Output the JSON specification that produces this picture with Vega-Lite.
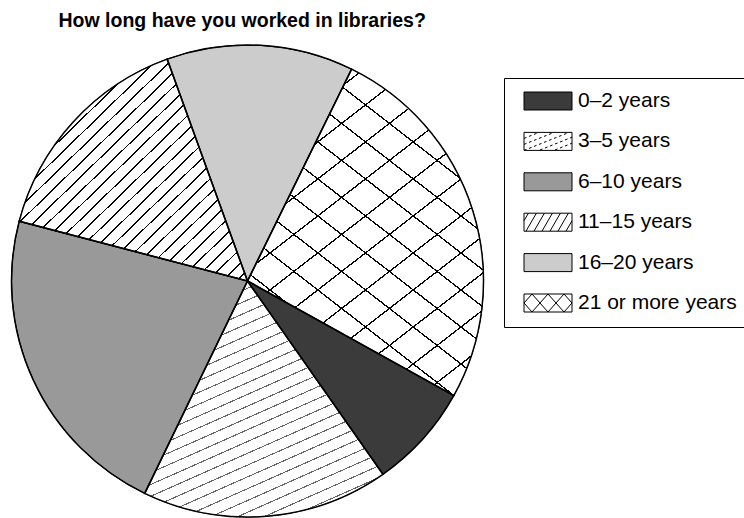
{
  "$schema": "https://vega.github.io/schema/vega-lite/v6.json",
  "width": 495,
  "height": 474,
  "autosize": {"type": "none"},
  "padding": {"left": 0, "top": 44, "right": 249, "bottom": 0},
  "background": "white",
  "title": {
    "text": "How long have you worked in libraries?",
    "anchor": "start",
    "frame": "group",
    "font": "Liberation Sans",
    "fontSize": 19.5,
    "fontWeight": "bold",
    "color": "black",
    "offset": -4,
    "baseline": "alphabetic",
    "dx": 58.5
  },
  "data": {
    "values": [
      {"years": "0–2 years", "pct": 7.2, "ord": 1},
      {"years": "3–5 years", "pct": 16.9, "ord": 2},
      {"years": "6–10 years", "pct": 21.9, "ord": 3},
      {"years": "11–15 years", "pct": 15.4, "ord": 4},
      {"years": "16–20 years", "pct": 12.8, "ord": 5},
      {"years": "21 or more years", "pct": 25.8, "ord": 6}
    ]
  },
  "layer": [
    {
      "encoding": {
        "theta": {"field": "pct", "type": "quantitative", "stack": true, "scale": {"range": [2.078, 8.361]}},
        "order": {"field": "ord", "type": "quantitative"}
      },
      "layer": [
        {
          "mark": {"type": "arc", "radius": 236, "stroke": "black", "strokeWidth": 1},
          "encoding": {
            "fill": {
              "field": "years",
              "type": "nominal",
              "scale": {
                "domain": ["0–2 years", "3–5 years", "6–10 years", "11–15 years", "16–20 years", "21 or more years"],
                "range": ["#3b3b3b", "#ffffff", "#999999", "#ffffff", "#cccccc", "#ffffff"]
              },
              "legend": {
                "title": null,
                "orient": "none",
                "legendX": 504,
                "legendY": 34,
                "strokeColor": "black",
                "fillColor": "white",
                "padding": 12.5,
                "symbolType": "M-0.333,-1H5V1H-0.333Z",
                "symbolSize": 324,
                "symbolStrokeColor": "black",
                "symbolStrokeWidth": 1,
                "symbolOffset": 0,
                "symbolOpacity": 1,
                "labelOffset": 40.5,
                "labelFont": "Liberation Sans",
                "labelFontSize": 21,
                "labelColor": "black",
                "labelLimit": 400,
                "rowPadding": 17.4
              }
            }
          }
        },
        {
          "mark": {"type": "arc", "radius": 236, "strokeWidth": 0,
            "fill": {"gradient": "linear", "x1": 0, "y1": 0, "x2": 0.54, "y2": 1.206, "stops": [
              {"offset": 0.015, "color": "#fff"}, {"offset": 0.015, "color": "#666"}, {"offset": 0.0185, "color": "#666"}, {"offset": 0.0185, "color": "#fff"},
              {"offset": 0.0495, "color": "#fff"}, {"offset": 0.0495, "color": "#666"}, {"offset": 0.053, "color": "#666"}, {"offset": 0.053, "color": "#fff"},
              {"offset": 0.084, "color": "#fff"}, {"offset": 0.084, "color": "#666"}, {"offset": 0.0875, "color": "#666"}, {"offset": 0.0875, "color": "#fff"},
              {"offset": 0.1185, "color": "#fff"}, {"offset": 0.1185, "color": "#666"}, {"offset": 0.122, "color": "#666"}, {"offset": 0.122, "color": "#fff"},
              {"offset": 0.153, "color": "#fff"}, {"offset": 0.153, "color": "#666"}, {"offset": 0.1565, "color": "#666"}, {"offset": 0.1565, "color": "#fff"},
              {"offset": 0.1875, "color": "#fff"}, {"offset": 0.1875, "color": "#666"}, {"offset": 0.191, "color": "#666"}, {"offset": 0.191, "color": "#fff"},
              {"offset": 0.222, "color": "#fff"}, {"offset": 0.222, "color": "#666"}, {"offset": 0.2255, "color": "#666"}, {"offset": 0.2255, "color": "#fff"},
              {"offset": 0.2565, "color": "#fff"}, {"offset": 0.2565, "color": "#666"}, {"offset": 0.26, "color": "#666"}, {"offset": 0.26, "color": "#fff"},
              {"offset": 0.291, "color": "#fff"}, {"offset": 0.291, "color": "#666"}, {"offset": 0.2945, "color": "#666"}, {"offset": 0.2945, "color": "#fff"},
              {"offset": 0.3255, "color": "#fff"}, {"offset": 0.3255, "color": "#666"}, {"offset": 0.329, "color": "#666"}, {"offset": 0.329, "color": "#fff"},
              {"offset": 0.36, "color": "#fff"}, {"offset": 0.36, "color": "#666"}, {"offset": 0.3635, "color": "#666"}, {"offset": 0.3635, "color": "#fff"},
              {"offset": 0.3945, "color": "#fff"}, {"offset": 0.3945, "color": "#666"}, {"offset": 0.398, "color": "#666"}, {"offset": 0.398, "color": "#fff"},
              {"offset": 0.429, "color": "#fff"}, {"offset": 0.429, "color": "#666"}, {"offset": 0.4325, "color": "#666"}, {"offset": 0.4325, "color": "#fff"},
              {"offset": 0.4635, "color": "#fff"}, {"offset": 0.4635, "color": "#666"}, {"offset": 0.467, "color": "#666"}, {"offset": 0.467, "color": "#fff"},
              {"offset": 0.498, "color": "#fff"}, {"offset": 0.498, "color": "#666"}, {"offset": 0.5015, "color": "#666"}, {"offset": 0.5015, "color": "#fff"},
              {"offset": 0.5325, "color": "#fff"}, {"offset": 0.5325, "color": "#666"}, {"offset": 0.536, "color": "#666"}, {"offset": 0.536, "color": "#fff"},
              {"offset": 0.567, "color": "#fff"}, {"offset": 0.567, "color": "#666"}, {"offset": 0.5705, "color": "#666"}, {"offset": 0.5705, "color": "#fff"},
              {"offset": 0.6015, "color": "#fff"}, {"offset": 0.6015, "color": "#666"}, {"offset": 0.605, "color": "#666"}, {"offset": 0.605, "color": "#fff"},
              {"offset": 0.636, "color": "#fff"}, {"offset": 0.636, "color": "#666"}, {"offset": 0.6395, "color": "#666"}, {"offset": 0.6395, "color": "#fff"},
              {"offset": 0.6705, "color": "#fff"}, {"offset": 0.6705, "color": "#666"}, {"offset": 0.674, "color": "#666"}, {"offset": 0.674, "color": "#fff"},
              {"offset": 0.705, "color": "#fff"}, {"offset": 0.705, "color": "#666"}, {"offset": 0.7085, "color": "#666"}, {"offset": 0.7085, "color": "#fff"},
              {"offset": 0.7395, "color": "#fff"}, {"offset": 0.7395, "color": "#666"}, {"offset": 0.743, "color": "#666"}, {"offset": 0.743, "color": "#fff"},
              {"offset": 0.774, "color": "#fff"}, {"offset": 0.774, "color": "#666"}, {"offset": 0.7775, "color": "#666"}, {"offset": 0.7775, "color": "#fff"},
              {"offset": 0.8085, "color": "#fff"}, {"offset": 0.8085, "color": "#666"}, {"offset": 0.812, "color": "#666"}, {"offset": 0.812, "color": "#fff"},
              {"offset": 0.843, "color": "#fff"}, {"offset": 0.843, "color": "#666"}, {"offset": 0.8465, "color": "#666"}, {"offset": 0.8465, "color": "#fff"},
              {"offset": 0.8775, "color": "#fff"}, {"offset": 0.8775, "color": "#666"}, {"offset": 0.881, "color": "#666"}, {"offset": 0.881, "color": "#fff"},
              {"offset": 0.912, "color": "#fff"}, {"offset": 0.912, "color": "#666"}, {"offset": 0.9155, "color": "#666"}, {"offset": 0.9155, "color": "#fff"},
              {"offset": 0.9465, "color": "#fff"}, {"offset": 0.9465, "color": "#666"}, {"offset": 0.95, "color": "#666"}, {"offset": 0.95, "color": "#fff"},
              {"offset": 0.981, "color": "#fff"}, {"offset": 0.981, "color": "#666"}, {"offset": 0.9845, "color": "#666"}, {"offset": 0.9845, "color": "#fff"}
            ]}
          },
          "encoding": {
            "fillOpacity": {"condition": {"test": "datum.years === '3–5 years'", "value": 1}, "value": 0}
          }
        },
        {
          "mark": {"type": "arc", "radius": 236, "strokeWidth": 0,
            "fill": {"gradient": "linear", "x1": 0, "y1": 0, "x2": 1, "y2": 1, "stops": [
              {"offset": 0.014, "color": "#fff"}, {"offset": 0.014, "color": "#000"}, {"offset": 0.018, "color": "#000"}, {"offset": 0.018, "color": "#fff"},
              {"offset": 0.046, "color": "#fff"}, {"offset": 0.046, "color": "#000"}, {"offset": 0.050, "color": "#000"}, {"offset": 0.050, "color": "#fff"},
              {"offset": 0.078, "color": "#fff"}, {"offset": 0.078, "color": "#000"}, {"offset": 0.082, "color": "#000"}, {"offset": 0.082, "color": "#fff"},
              {"offset": 0.110, "color": "#fff"}, {"offset": 0.110, "color": "#000"}, {"offset": 0.114, "color": "#000"}, {"offset": 0.114, "color": "#fff"},
              {"offset": 0.142, "color": "#fff"}, {"offset": 0.142, "color": "#000"}, {"offset": 0.146, "color": "#000"}, {"offset": 0.146, "color": "#fff"},
              {"offset": 0.174, "color": "#fff"}, {"offset": 0.174, "color": "#000"}, {"offset": 0.178, "color": "#000"}, {"offset": 0.178, "color": "#fff"},
              {"offset": 0.206, "color": "#fff"}, {"offset": 0.206, "color": "#000"}, {"offset": 0.210, "color": "#000"}, {"offset": 0.210, "color": "#fff"},
              {"offset": 0.238, "color": "#fff"}, {"offset": 0.238, "color": "#000"}, {"offset": 0.242, "color": "#000"}, {"offset": 0.242, "color": "#fff"},
              {"offset": 0.270, "color": "#fff"}, {"offset": 0.270, "color": "#000"}, {"offset": 0.274, "color": "#000"}, {"offset": 0.274, "color": "#fff"},
              {"offset": 0.302, "color": "#fff"}, {"offset": 0.302, "color": "#000"}, {"offset": 0.306, "color": "#000"}, {"offset": 0.306, "color": "#fff"},
              {"offset": 0.334, "color": "#fff"}, {"offset": 0.334, "color": "#000"}, {"offset": 0.338, "color": "#000"}, {"offset": 0.338, "color": "#fff"},
              {"offset": 0.366, "color": "#fff"}, {"offset": 0.366, "color": "#000"}, {"offset": 0.370, "color": "#000"}, {"offset": 0.370, "color": "#fff"},
              {"offset": 0.398, "color": "#fff"}, {"offset": 0.398, "color": "#000"}, {"offset": 0.402, "color": "#000"}, {"offset": 0.402, "color": "#fff"},
              {"offset": 0.430, "color": "#fff"}, {"offset": 0.430, "color": "#000"}, {"offset": 0.434, "color": "#000"}, {"offset": 0.434, "color": "#fff"},
              {"offset": 0.462, "color": "#fff"}, {"offset": 0.462, "color": "#000"}, {"offset": 0.466, "color": "#000"}, {"offset": 0.466, "color": "#fff"},
              {"offset": 0.494, "color": "#fff"}, {"offset": 0.494, "color": "#000"}, {"offset": 0.498, "color": "#000"}, {"offset": 0.498, "color": "#fff"},
              {"offset": 0.526, "color": "#fff"}, {"offset": 0.526, "color": "#000"}, {"offset": 0.530, "color": "#000"}, {"offset": 0.530, "color": "#fff"},
              {"offset": 0.558, "color": "#fff"}, {"offset": 0.558, "color": "#000"}, {"offset": 0.562, "color": "#000"}, {"offset": 0.562, "color": "#fff"},
              {"offset": 0.590, "color": "#fff"}, {"offset": 0.590, "color": "#000"}, {"offset": 0.594, "color": "#000"}, {"offset": 0.594, "color": "#fff"},
              {"offset": 0.622, "color": "#fff"}, {"offset": 0.622, "color": "#000"}, {"offset": 0.626, "color": "#000"}, {"offset": 0.626, "color": "#fff"},
              {"offset": 0.654, "color": "#fff"}, {"offset": 0.654, "color": "#000"}, {"offset": 0.658, "color": "#000"}, {"offset": 0.658, "color": "#fff"},
              {"offset": 0.686, "color": "#fff"}, {"offset": 0.686, "color": "#000"}, {"offset": 0.690, "color": "#000"}, {"offset": 0.690, "color": "#fff"},
              {"offset": 0.718, "color": "#fff"}, {"offset": 0.718, "color": "#000"}, {"offset": 0.722, "color": "#000"}, {"offset": 0.722, "color": "#fff"},
              {"offset": 0.750, "color": "#fff"}, {"offset": 0.750, "color": "#000"}, {"offset": 0.754, "color": "#000"}, {"offset": 0.754, "color": "#fff"},
              {"offset": 0.782, "color": "#fff"}, {"offset": 0.782, "color": "#000"}, {"offset": 0.786, "color": "#000"}, {"offset": 0.786, "color": "#fff"},
              {"offset": 0.814, "color": "#fff"}, {"offset": 0.814, "color": "#000"}, {"offset": 0.818, "color": "#000"}, {"offset": 0.818, "color": "#fff"},
              {"offset": 0.846, "color": "#fff"}, {"offset": 0.846, "color": "#000"}, {"offset": 0.850, "color": "#000"}, {"offset": 0.850, "color": "#fff"},
              {"offset": 0.878, "color": "#fff"}, {"offset": 0.878, "color": "#000"}, {"offset": 0.882, "color": "#000"}, {"offset": 0.882, "color": "#fff"},
              {"offset": 0.910, "color": "#fff"}, {"offset": 0.910, "color": "#000"}, {"offset": 0.914, "color": "#000"}, {"offset": 0.914, "color": "#fff"},
              {"offset": 0.942, "color": "#fff"}, {"offset": 0.942, "color": "#000"}, {"offset": 0.946, "color": "#000"}, {"offset": 0.946, "color": "#fff"},
              {"offset": 0.974, "color": "#fff"}, {"offset": 0.974, "color": "#000"}, {"offset": 0.978, "color": "#000"}, {"offset": 0.978, "color": "#fff"}
            ]}
          },
          "encoding": {
            "fillOpacity": {"condition": {"test": "datum.years === '11–15 years'", "value": 1}, "value": 0}
          }
        },
        {
          "mark": {"type": "arc", "radius": 236, "strokeWidth": 0,
            "fill": {"gradient": "linear", "x1": 0, "y1": 0, "x2": 0.667, "y2": 1.19, "stops": [
              {"offset": 0.030, "color": "#fff"}, {"offset": 0.030, "color": "#000"}, {"offset": 0.0333, "color": "#000"}, {"offset": 0.0333, "color": "#fff"},
              {"offset": 0.1025, "color": "#fff"}, {"offset": 0.1025, "color": "#000"}, {"offset": 0.1058, "color": "#000"}, {"offset": 0.1058, "color": "#fff"},
              {"offset": 0.175, "color": "#fff"}, {"offset": 0.175, "color": "#000"}, {"offset": 0.1783, "color": "#000"}, {"offset": 0.1783, "color": "#fff"},
              {"offset": 0.2475, "color": "#fff"}, {"offset": 0.2475, "color": "#000"}, {"offset": 0.2508, "color": "#000"}, {"offset": 0.2508, "color": "#fff"},
              {"offset": 0.32, "color": "#fff"}, {"offset": 0.32, "color": "#000"}, {"offset": 0.3233, "color": "#000"}, {"offset": 0.3233, "color": "#fff"},
              {"offset": 0.3925, "color": "#fff"}, {"offset": 0.3925, "color": "#000"}, {"offset": 0.3958, "color": "#000"}, {"offset": 0.3958, "color": "#fff"},
              {"offset": 0.465, "color": "#fff"}, {"offset": 0.465, "color": "#000"}, {"offset": 0.4683, "color": "#000"}, {"offset": 0.4683, "color": "#fff"},
              {"offset": 0.5375, "color": "#fff"}, {"offset": 0.5375, "color": "#000"}, {"offset": 0.5408, "color": "#000"}, {"offset": 0.5408, "color": "#fff"},
              {"offset": 0.61, "color": "#fff"}, {"offset": 0.61, "color": "#000"}, {"offset": 0.6133, "color": "#000"}, {"offset": 0.6133, "color": "#fff"},
              {"offset": 0.6825, "color": "#fff"}, {"offset": 0.6825, "color": "#000"}, {"offset": 0.6858, "color": "#000"}, {"offset": 0.6858, "color": "#fff"},
              {"offset": 0.755, "color": "#fff"}, {"offset": 0.755, "color": "#000"}, {"offset": 0.7583, "color": "#000"}, {"offset": 0.7583, "color": "#fff"},
              {"offset": 0.8275, "color": "#fff"}, {"offset": 0.8275, "color": "#000"}, {"offset": 0.8308, "color": "#000"}, {"offset": 0.8308, "color": "#fff"},
              {"offset": 0.9, "color": "#fff"}, {"offset": 0.9, "color": "#000"}, {"offset": 0.9033, "color": "#000"}, {"offset": 0.9033, "color": "#fff"},
              {"offset": 0.9725, "color": "#fff"}, {"offset": 0.9725, "color": "#000"}, {"offset": 0.9758, "color": "#000"}, {"offset": 0.9758, "color": "#fff"}
            ]}
          },
          "encoding": {
            "fillOpacity": {"condition": {"test": "datum.years === '21 or more years'", "value": 1}, "value": 0}
          }
        },
        {
          "mark": {"type": "arc", "radius": 236, "stroke": "black", "strokeWidth": 1.5,
            "fill": {"gradient": "linear", "x1": 1, "y1": 0, "x2": 0.333, "y2": 1.19, "stops": [
              {"offset": 0.030, "color": "rgba(0,0,0,0)"}, {"offset": 0.030, "color": "#000"}, {"offset": 0.0333, "color": "#000"}, {"offset": 0.0333, "color": "rgba(0,0,0,0)"},
              {"offset": 0.1025, "color": "rgba(0,0,0,0)"}, {"offset": 0.1025, "color": "#000"}, {"offset": 0.1058, "color": "#000"}, {"offset": 0.1058, "color": "rgba(0,0,0,0)"},
              {"offset": 0.175, "color": "rgba(0,0,0,0)"}, {"offset": 0.175, "color": "#000"}, {"offset": 0.1783, "color": "#000"}, {"offset": 0.1783, "color": "rgba(0,0,0,0)"},
              {"offset": 0.2475, "color": "rgba(0,0,0,0)"}, {"offset": 0.2475, "color": "#000"}, {"offset": 0.2508, "color": "#000"}, {"offset": 0.2508, "color": "rgba(0,0,0,0)"},
              {"offset": 0.32, "color": "rgba(0,0,0,0)"}, {"offset": 0.32, "color": "#000"}, {"offset": 0.3233, "color": "#000"}, {"offset": 0.3233, "color": "rgba(0,0,0,0)"},
              {"offset": 0.3925, "color": "rgba(0,0,0,0)"}, {"offset": 0.3925, "color": "#000"}, {"offset": 0.3958, "color": "#000"}, {"offset": 0.3958, "color": "rgba(0,0,0,0)"},
              {"offset": 0.465, "color": "rgba(0,0,0,0)"}, {"offset": 0.465, "color": "#000"}, {"offset": 0.4683, "color": "#000"}, {"offset": 0.4683, "color": "rgba(0,0,0,0)"},
              {"offset": 0.5375, "color": "rgba(0,0,0,0)"}, {"offset": 0.5375, "color": "#000"}, {"offset": 0.5408, "color": "#000"}, {"offset": 0.5408, "color": "rgba(0,0,0,0)"},
              {"offset": 0.61, "color": "rgba(0,0,0,0)"}, {"offset": 0.61, "color": "#000"}, {"offset": 0.6133, "color": "#000"}, {"offset": 0.6133, "color": "rgba(0,0,0,0)"},
              {"offset": 0.6825, "color": "rgba(0,0,0,0)"}, {"offset": 0.6825, "color": "#000"}, {"offset": 0.6858, "color": "#000"}, {"offset": 0.6858, "color": "rgba(0,0,0,0)"},
              {"offset": 0.755, "color": "rgba(0,0,0,0)"}, {"offset": 0.755, "color": "#000"}, {"offset": 0.7583, "color": "#000"}, {"offset": 0.7583, "color": "rgba(0,0,0,0)"},
              {"offset": 0.8275, "color": "rgba(0,0,0,0)"}, {"offset": 0.8275, "color": "#000"}, {"offset": 0.8308, "color": "#000"}, {"offset": 0.8308, "color": "rgba(0,0,0,0)"},
              {"offset": 0.9, "color": "rgba(0,0,0,0)"}, {"offset": 0.9, "color": "#000"}, {"offset": 0.9033, "color": "#000"}, {"offset": 0.9033, "color": "rgba(0,0,0,0)"},
              {"offset": 0.9725, "color": "rgba(0,0,0,0)"}, {"offset": 0.9725, "color": "#000"}, {"offset": 0.9758, "color": "#000"}, {"offset": 0.9758, "color": "rgba(0,0,0,0)"}
            ]}
          },
          "encoding": {
            "fillOpacity": {"condition": {"test": "datum.years === '21 or more years'", "value": 1}, "value": 0}
          }
        }
      ]
    },
    {
      "mark": {"type": "point", "filled": true, "opacity": 0},
      "encoding": {
        "fill": {
          "field": "years",
          "type": "nominal",
          "scale": {
            "domain": ["0–2 years", "3–5 years", "6–10 years", "11–15 years", "16–20 years", "21 or more years"],
            "range": ["#3b3b3b", "#ffffff", "#999999", "#ffffff", "#cccccc", "#ffffff"]
          }
        },
        "stroke": {
          "field": "years",
          "type": "nominal",
          "scale": {
            "domain": ["0–2 years", "3–5 years", "6–10 years", "11–15 years", "16–20 years", "21 or more years"],
            "range": ["#000000", "#000000", "#000000", "#000000", "#000000", "#000000"]
          },
          "legend": {
            "title": null,
            "orient": "none",
            "legendX": 504,
            "legendY": 34,
            "strokeColor": "black",
            "fillColor": "white",
            "padding": 12.5,
            "symbolSize": 324,
            "symbolStrokeWidth": 1,
            "symbolOffset": 0,
            "symbolOpacity": 1,
            "labelOffset": 40.5,
            "labelFont": "Liberation Sans",
            "labelFontSize": 21,
            "labelColor": "black",
            "labelLimit": 400,
            "rowPadding": 17.4
          }
        },
        "shape": {
          "field": "years",
          "type": "nominal",
          "scale": {
            "domain": ["0–2 years", "3–5 years", "6–10 years", "11–15 years", "16–20 years", "21 or more years"],
            "range": [
              "M-0.333,-1H5V1H-0.333Z",
              "M-0.333,-1H5V1H-0.333Z M-0.333,-0.333L-0.056,-0.444 M0.222,-0.556L0.5,-0.667 M0.778,-0.778L1.056,-0.889 M-0.333,0.333L-0.056,0.222 M0.222,0.111L0.5,0 M0.778,-0.111L1.056,-0.222 M1.333,-0.333L1.611,-0.444 M1.889,-0.556L2.167,-0.667 M2.444,-0.778L2.722,-0.889 M-0.333,1L-0.056,0.889 M0.222,0.778L0.5,0.667 M0.778,0.556L1.056,0.444 M1.333,0.333L1.611,0.222 M1.889,0.111L2.167,0 M2.444,-0.111L2.722,-0.222 M3,-0.333L3.278,-0.444 M3.556,-0.556L3.833,-0.667 M4.111,-0.778L4.389,-0.889 M1.444,0.956L1.722,0.844 M2,0.733L2.278,0.622 M2.556,0.511L2.833,0.4 M3.111,0.289L3.389,0.178 M3.667,0.067L3.944,-0.044 M4.222,-0.156L4.5,-0.267 M4.778,-0.378L5,-0.467 M3.111,0.956L3.389,0.844 M3.667,0.733L3.944,0.622 M4.222,0.511L4.5,0.4 M4.778,0.289L5,0.2",
              "M-0.333,-1H5V1H-0.333Z",
              "M-0.333,-1H5V1H-0.333Z M-0.333,-0.156L0.156,-1 M-0.111,1L1.044,-1 M0.778,1L1.933,-1 M1.667,1L2.822,-1 M2.556,1L3.711,-1 M3.444,1L4.6,-1 M4.333,1L5,-0.156",
              "M-0.333,-1H5V1H-0.333Z",
              "M-0.333,-1H5V1H-0.333Z M-0.333,0L0.556,1 M0.556,-1L2.333,1 M2.333,-1L4.111,1 M4.111,-1L5,0 M-0.333,0L0.556,-1 M0.556,1L2.333,-1 M2.333,1L4.111,-1 M4.111,1L5,0"
            ]
          },
          "legend": {
            "title": null,
            "orient": "none",
            "legendX": 504,
            "legendY": 34,
            "strokeColor": "black",
            "fillColor": "white",
            "padding": 12.5,
            "symbolSize": 324,
            "symbolStrokeWidth": 1,
            "symbolOffset": 0,
            "symbolOpacity": 1,
            "labelOffset": 40.5,
            "labelFont": "Liberation Sans",
            "labelFontSize": 21,
            "labelColor": "black",
            "labelLimit": 400,
            "rowPadding": 17.4
          }
        }
      }
    }
  ],
  "config": {"view": {"stroke": null}}
}
